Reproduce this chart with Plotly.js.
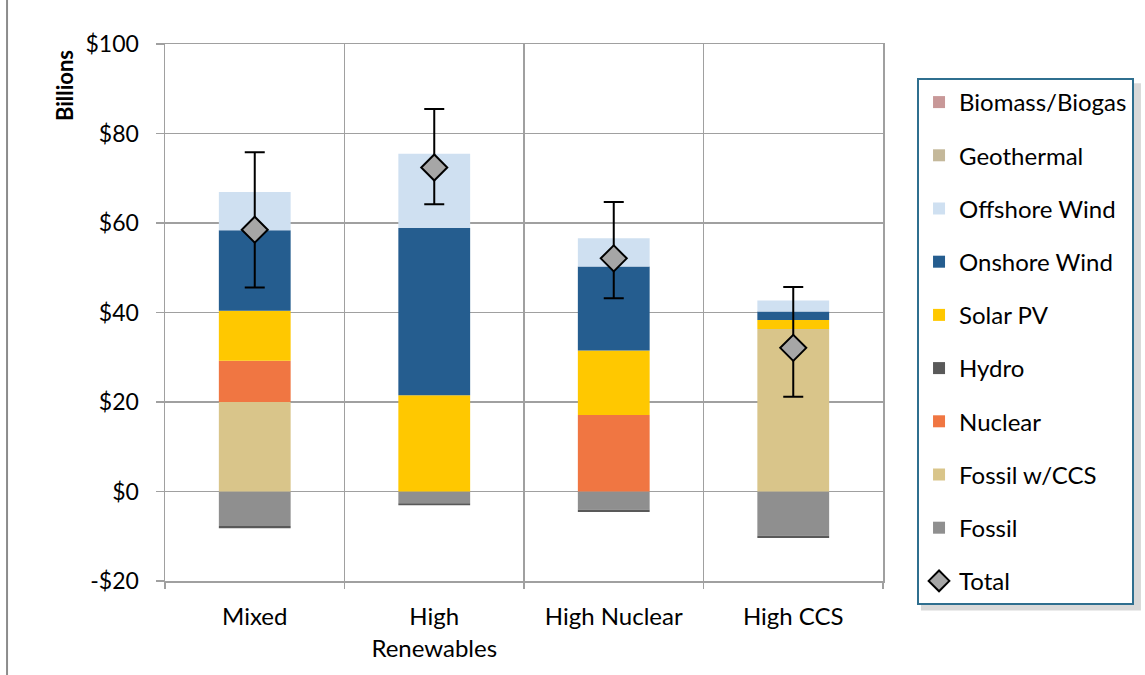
<!DOCTYPE html>
<html>
<head>
<meta charset="utf-8">
<script src="https://cdn.plot.ly/plotly-3.0.1.min.js"></script>
<style>html,body{margin:0;padding:0;background:#fff;}#chart{width:1145px;height:675px;}</style>
</head>
<body>
<div id="chart"></div>
<script>
const categories = ["Mixed", "High<br>Renewables", "High Nuclear", "High CCS"];

const fossil      = [-7.7, -2.6, -4.1, -9.9];
const hydro       = [-0.5, -0.5, -0.5, -0.5];
const fossilCCS   = [20.0, 0, 0, 36.3];
const nuclear     = [9.2, 0, 17.1, 0];
const solarPV     = [11.2, 21.5, 14.4, 2.0];
const onshoreWind = [18.0, 37.4, 18.8, 1.9];
const offshoreWind= [8.5, 16.6, 6.3, 2.5];
const geothermal  = [0, 0, 0, 0];
const biomass     = [0, 0, 0, 0];

const totals   = [58.5, 72.4, 52.1, 32.1];
const errHigh  = [75.8, 85.5, 64.7, 45.7];
const errLow   = [45.6, 64.2, 43.2, 21.2];

const yTickVals = [-20, 0, 20, 40, 60, 80, 100];
const yTickText = ["-$20", "$0", "$20", "$40", "$60", "$80", "$100"];

const FONT = "Lato, 'Open Sans', sans-serif";

function bar(name, y, color, rank) {
  return {type: "bar", name: name, x: categories, y: y, width: 0.4,
    marker: {color: color, line: {width: 0}}, legendgroup: "g" + rank, legendrank: rank,
    hoverinfo: "name+y"};
}

const data = [
  bar("Fossil", fossil, "#8f8f8f", 9),
  bar("Fossil w/CCS", fossilCCS, "#d9c58a", 8),
  bar("Nuclear", nuclear, "#f07642", 7),
  bar("Hydro", hydro, "#595959", 6),
  bar("Solar PV", solarPV, "#ffc800", 5),
  bar("Onshore Wind", onshoreWind, "#255d8f", 4),
  bar("Offshore Wind", offshoreWind, "#cfe0f1", 3),
  bar("Geothermal", geothermal, "#c4b89a", 2),
  bar("Biomass/Biogas", biomass, "#c89898", 1),
  {type: "scatter", mode: "markers", name: "Total", x: categories, y: totals,
   legendgroup: "g10", legendrank: 10,
   marker: {symbol: "diamond", size: 20, color: "#a6a6a6", line: {color: "#000", width: 2}},
   error_y: {type: "data", symmetric: false,
     array: errHigh.map((h, i) => h - totals[i]),
     arrayminus: totals.map((t, i) => t - errLow[i]),
     color: "#000", thickness: 2, width: 10}}
];

const layout = {
  width: 1145, height: 675,
  margin: {l: 165, r: 262, t: 44, b: 94, autoexpand: false},
  paper_bgcolor: "#fff", plot_bgcolor: "#fff",
  barmode: "relative",
  font: {family: FONT, size: 24, color: "#000"},
  showlegend: true,
  legend: {
    x: 1.0474, xanchor: "left", y: 0.9367, yanchor: "top",
    traceorder: "grouped", tracegroupgap: 19, maxheight: 640,
    bgcolor: "#fff", bordercolor: "#2f6f8f", borderwidth: 2,
    font: {family: FONT, size: 24, color: "#000"},
    itemwidth: 30
  },
  xaxis: {
    type: "category", tickson: "boundaries", ticks: "outside", ticklen: 6,
    tickcolor: "#a0a0a0", tickwidth: 1.5,
    showgrid: true, gridcolor: "#a0a0a0", gridwidth: 1.5,
    showline: true, linecolor: "#a0a0a0", linewidth: 1.5, mirror: true,
    tickfont: {family: FONT, size: 24, color: "#000"},
    ticklabelstandoff: 14, automargin: false
  },
  yaxis: {
    range: [-20, 100], tickvals: yTickVals, ticktext: yTickText,
    ticks: "outside", ticklen: 8, tickcolor: "#a0a0a0", tickwidth: 1.5,
    showgrid: true, gridcolor: "#a0a0a0", gridwidth: 1.5,
    showline: true, linecolor: "#a0a0a0", linewidth: 1.5, mirror: true,
    zeroline: false,
    tickfont: {family: FONT, size: 23, color: "#000"},
    ticklabelstandoff: 12, automargin: false
  },
  shapes: [
    {type: "line", xref: "paper", yref: "paper", x0: -0.22, x1: -0.22, y0: -0.2, y1: 1.1,
     line: {color: "#8c8c8c", width: 2}},
    {type: "rect", xref: "paper", yref: "paper", x0: 1.0529, x1: 1.3593, y0: -0.055, y1: 0.927,
     fillcolor: "rgba(0,0,0,0.15)", line: {width: 0}, layer: "above"}
  ],
  annotations: [
    {text: "<b>Billions</b>", xref: "paper", yref: "paper", x: -0.139, y: 0.922,
     xanchor: "center", yanchor: "middle",
     textangle: -90, showarrow: false, font: {family: FONT, size: 22, color: "#000"}}
  ]
};

Plotly.newPlot("chart", data, layout, {displayModeBar: false, staticPlot: true});
</script>
</body>
</html>
